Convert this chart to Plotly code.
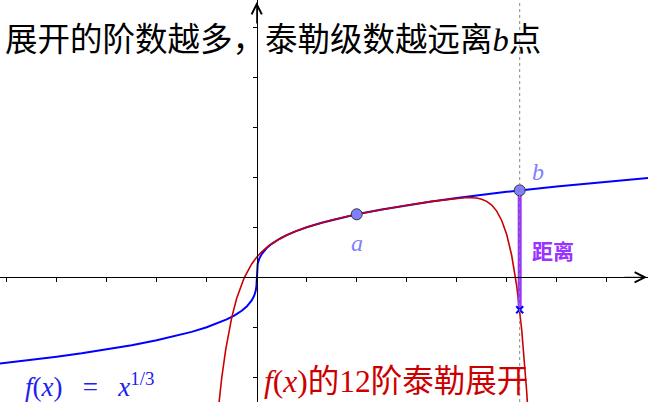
import plotly.graph_objects as go

# f(x) = x^(1/3)
cube_x = [-5.2, -4.5, -4, -3.5, -3, -2.5, -2, -1.6, -1.3, -1, -0.8, -0.6, -0.45, -0.3,
          -0.2, -0.1, -0.05, -0.02, -0.005, -0.001, 0, 0.001, 0.005, 0.02, 0.05, 0.1,
          0.2, 0.3, 0.45, 0.6, 0.8, 1, 1.3, 1.6, 2, 2.5, 3, 3.5, 4, 4.5, 5, 6, 7, 7.9]
cube_y = [-1.733, -1.651, -1.587, -1.518, -1.442, -1.357, -1.260, -1.170, -1.091, -1.0,
          -0.928, -0.843, -0.766, -0.669, -0.585, -0.464, -0.368, -0.271, -0.171, -0.1,
          0.0, 0.1, 0.171, 0.271, 0.368, 0.464, 0.585, 0.669, 0.766, 0.843, 0.928, 1.0,
          1.091, 1.170, 1.260, 1.357, 1.442, 1.518, 1.587, 1.651, 1.710, 1.817, 1.913, 1.992]

# 12th order Taylor expansion around a
taylor_x = [-0.8, -0.7, -0.62, -0.5, -0.4, -0.25, -0.1, 0, 0.1, 0.25, 0.5, 0.75, 1, 1.5,
            2, 2.5, 3, 3.5, 4, 4.2, 4.4, 4.5, 4.6, 4.7, 4.8, 4.9, 5.0, 5.1, 5.2, 5.3,
            5.4, 5.45]
taylor_y = [-2.944, -2.014, -1.445, -0.807, -0.420, -0.010, 0.267, 0.403, 0.511, 0.639,
            0.795, 0.909, 1.0, 1.145, 1.26, 1.357, 1.442, 1.518, 1.582, 1.596, 1.586,
            1.563, 1.519, 1.445, 1.324, 1.137, 0.855, 0.436, -0.173, -1.049, -2.289,
            -3.085]

point_names = ["a", "b"]
point_x = [2.0, 5.26]
point_y = [1.26, 1.739]
b_taylor = -0.65

x_range = [-5.134, 7.826]
y_range = [-2.494, 5.546]

BLUE = "#0000ff"
RED = "#cc0000"
PURPLE = "#9933ff"
DOT = "#7f7fff"
SERIF = "Liberation Serif, DejaVu Serif, serif"
CJK = "Noto Sans CJK SC, sans-serif"

fig = go.Figure()

fig.add_vline(x=point_x[1], line=dict(color="#888888", width=1, dash="dot"))

fig.add_trace(go.Scatter(x=cube_x, y=cube_y, mode="lines",
                         line=dict(color=BLUE, width=2), hoverinfo="skip"))
fig.add_trace(go.Scatter(x=taylor_x, y=taylor_y, mode="lines",
                         line=dict(color=RED, width=1.6), hoverinfo="skip"))

# distance between f(b) and the expansion at b
fig.add_trace(go.Scatter(x=[point_x[1], point_x[1]], y=[point_y[1], b_taylor], mode="lines",
                         line=dict(color=PURPLE, width=4), hoverinfo="skip"))
fig.add_trace(go.Scatter(x=[point_x[1]], y=[b_taylor], mode="markers",
                         marker=dict(symbol="x-thin", size=7, line=dict(color=BLUE, width=2)),
                         hoverinfo="skip"))
fig.add_trace(go.Scatter(x=point_x, y=point_y, mode="markers",
                         marker=dict(size=11, color=DOT, line=dict(color="#333333", width=1)),
                         hoverinfo="skip"))

axis_common = dict(showgrid=False, zeroline=False, showline=True, linecolor="black",
                   linewidth=1, ticks="outside", ticklen=4, tickcolor="black",
                   tickwidth=1, showticklabels=False, tickmode="linear", tick0=0,
                   dtick=1, anchor="free", fixedrange=True)
fig.update_xaxes(range=x_range, position=-y_range[0] / (y_range[1] - y_range[0]),
                 **axis_common)
fig.update_yaxes(range=y_range, position=-x_range[0] / (x_range[1] - x_range[0]),
                 side="left", **axis_common)

# arrow heads at the axis ends
fig.add_annotation(x=x_range[1] - 0.02, y=0, ax=x_range[1] - 0.5, ay=0, axref="x", ayref="y",
                   text="", showarrow=True, arrowhead=5, arrowsize=2, arrowwidth=1,
                   arrowcolor="black")
fig.add_annotation(x=0, y=y_range[1] - 0.04, ax=0, ay=y_range[1] - 0.5, axref="x", ayref="y",
                   text="", showarrow=True, arrowhead=5, arrowsize=2, arrowwidth=1,
                   arrowcolor="black")

# point labels
fig.add_annotation(x=point_x[0], y=0.69, text="<i>a</i>", showarrow=False,
                   font=dict(family=SERIF, size=24, color=DOT))
fig.add_annotation(x=5.63, y=2.11, text="<i>b</i>", showarrow=False,
                   font=dict(family=SERIF, size=24, color=DOT))
fig.add_annotation(x=5.93, y=0.55, text="<b>距离</b>", showarrow=False,
                   font=dict(family=CJK, size=21, color=PURPLE))

fig.add_annotation(xref="paper", yref="paper", x=0.005, y=1 - 37 / 402, xanchor="left",
                   yanchor="middle", showarrow=False,
                   text='展开的阶数越多，泰勒级数越远离<span style="font-family:Liberation Serif"><i>b</i></span>点',
                   font=dict(family=CJK, size=32.5, color="black"))
fig.add_annotation(xref="paper", yref="paper", x=0.036, y=1 - 385 / 402, xanchor="left",
                   yanchor="middle", showarrow=False,
                   text="<i>f</i>(<i>x</i>)   =   <i>x</i><sup>1/3</sup>",
                   font=dict(family=SERIF, size=27, color="#2020ee"))
fig.add_annotation(xref="paper", yref="paper", x=0.405, y=1 - 378 / 402, xanchor="left",
                   yanchor="middle", showarrow=False,
                   text='<span style="font-family:Liberation Serif"><i>f</i>(<i>x</i>)</span>的<span style="font-family:Liberation Serif">12</span>阶泰勒展开',
                   font=dict(family=CJK, size=31.5, color=RED))

fig.update_layout(width=648, height=402, margin=dict(l=0, r=0, t=0, b=0),
                  paper_bgcolor="white", plot_bgcolor="white", showlegend=False)

fig.write_html("out.html", config={"displayModeBar": False},
               post_script="document.body.style.margin='0';")
